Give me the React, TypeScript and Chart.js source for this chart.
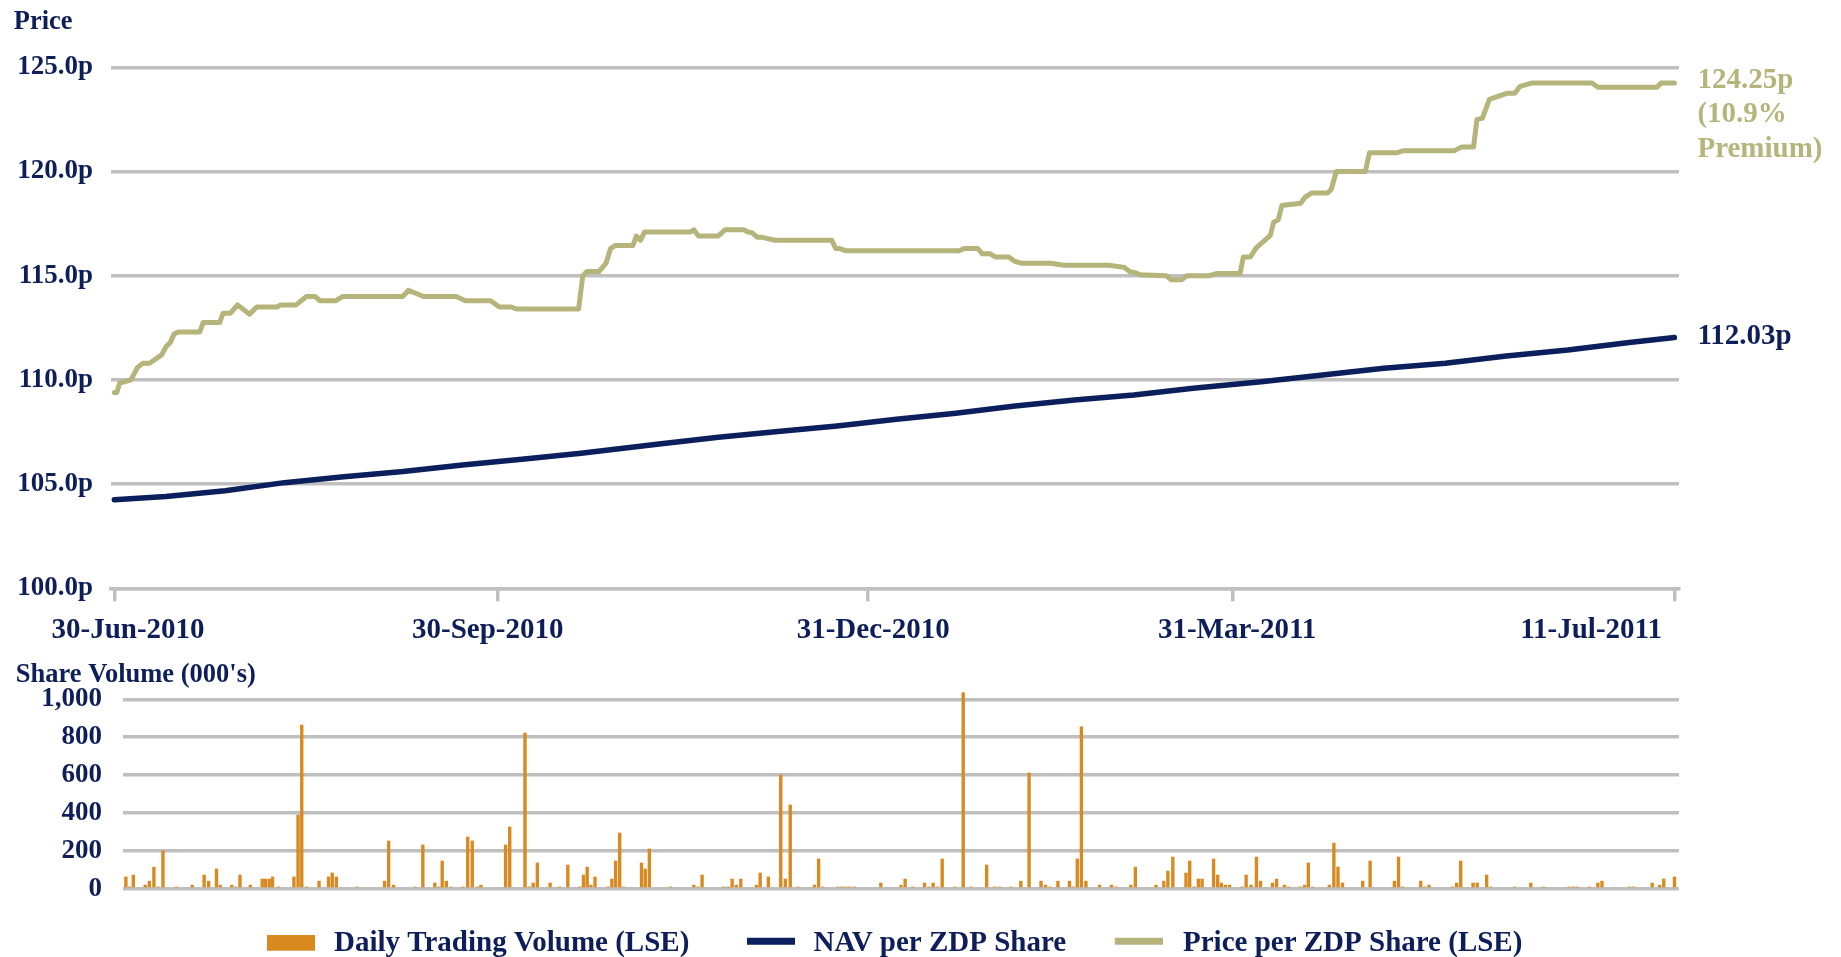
import React, { useEffect, useRef } from 'react';
import { Chart, registerables } from 'chart.js';

Chart.register(...registerables);

const FONT = '"Liberation Serif", "Times New Roman", Times, serif';
const NAVY = '#0D1E5A';
const NAV_LINE = '#0A1F5C';
const KHAKI = '#B5B47A';
const ORANGE = '#D8891F';
const GRID = '#BFBFBF';

// x units: position along the date axis (days from 30-Jun-2010)
const xTickPos = [0, 92.5, 181.5, 269.5, 376];
const xLabelPos = [3.3, 90, 182.9, 270.6, 355.9];
const xTickLabels = ['30-Jun-2010', '30-Sep-2010', '31-Dec-2010', '31-Mar-2011', '11-Jul-2011'];

const priceTicks = [100, 105, 110, 115, 120, 125];
const volumeTicks = [0, 200, 400, 600, 800, 1000];

const priceDays = [
  0, 0.6, 1.3, 4.0, 5.6, 6.9, 8.5, 11.4, 12.5, 13.5, 14.4, 15.4, 20.6, 21.4, 25.4, 26.2, 28.0, 29.7,
  32.6, 34.3, 39.2, 40.1, 43.8, 46.3, 48.4, 49.6, 53.4, 55.0, 69.5, 70.9, 74.5, 82.4, 84.6, 90.7,
  92.8, 95.7, 96.9, 111.9, 112.9, 113.9, 116.8, 118.5, 119.6, 120.7, 125.0, 125.8, 126.8, 127.8,
  138.9, 139.7, 140.8, 145.5, 147.2, 151.7, 152.7, 153.8, 154.9, 155.9, 159.2, 172.9, 173.9, 174.9,
  176.2, 203.6, 204.8, 208.1, 209.2, 211.1, 212.3, 215.6, 216.9, 218.5, 225.6, 228.9, 239.7, 243.4,
  244.7, 245.9, 247.2, 253.5, 254.7, 257.2, 258.5, 263.9, 265.6, 271.3, 272.1, 273.8, 275.2, 278.6,
  279.4, 280.5, 281.4, 285.9, 287.0, 288.6, 292.4, 293.3, 294.5, 301.5, 302.5, 309.2, 310.7, 323.0,
  324.7, 327.6, 328.4, 329.7, 331.4, 335.6, 337.5, 338.7, 341.7, 356.1, 357.6, 371.8, 372.8, 376,
];
const priceValues = [
  109.4, 109.4, 109.85, 110.0, 110.6, 110.8, 110.8, 111.2, 111.6, 111.8, 112.2, 112.3, 112.3, 112.75, 112.75, 113.2, 113.2, 113.6,
  113.15, 113.5, 113.5, 113.6, 113.6, 114.0, 114.0, 113.8, 113.8, 114.0, 114.0, 114.3, 114.0, 114.0, 113.8, 113.8,
  113.5, 113.5, 113.4, 113.4, 115.0, 115.2, 115.2, 115.6, 116.3, 116.45, 116.45, 116.9, 116.7, 117.1,
  117.1, 117.2, 116.9, 116.9, 117.2, 117.2, 117.1, 117.05, 116.85, 116.85, 116.7, 116.7, 116.3, 116.3,
  116.2, 116.2, 116.3, 116.3, 116.05, 116.05, 115.9, 115.9, 115.7, 115.6, 115.6, 115.5, 115.5, 115.4,
  115.2, 115.15, 115.05, 115.0, 114.8, 114.8, 115.0, 115.0, 115.1, 115.1, 115.9, 115.9, 116.33, 116.93,
  117.57, 117.68, 118.37, 118.48, 118.77, 118.97, 118.97, 119.14, 120.0, 120.0, 120.9, 120.9, 121.0, 121.0,
  121.18, 121.18, 122.5, 122.55, 123.46, 123.75, 123.75, 124.07, 124.25, 124.25, 124.04, 124.04, 124.25, 124.25,
];

const navDays = [
  0, 12.4, 26.7, 41, 55.3, 69.6, 83.9, 98.2, 112.5, 131.3, 145.6, 159.9, 174.2, 188.5,
  202.8, 217.1, 231.4, 245.7, 260, 276.4, 291.2, 306, 320.8, 335.5, 350.3, 365.1, 376,
];
const navValues = [
  104.25, 104.4, 104.68, 105.07, 105.35, 105.6, 105.92, 106.19, 106.48, 106.92, 107.25, 107.52, 107.79, 108.11,
  108.4, 108.75, 109.04, 109.28, 109.6, 109.91, 110.24, 110.56, 110.8, 111.15, 111.43, 111.79, 112.03,
];

const volumeDays = [
  0.0, 0.9, 1.8, 4.7, 5.7, 6.8, 7.8, 9.0, 12.2, 16.1, 19.0, 20.1, 22.0, 22.9, 25.7, 26.7, 27.7, 30.2,
  33.1, 33.9, 34.8, 35.6, 37.1, 40.8, 41.8, 42.7, 43.9, 46.9, 49.2, 50.1, 51.1, 56.1, 62.8, 63.8, 65.0,
  70.2, 72.1, 75.0, 76.0, 76.8, 77.8, 78.9, 81.8, 83.0, 84.1, 85.4, 86.2, 92.2, 93.2, 96.9, 97.9, 98.9,
  99.9, 103.0, 105.2, 107.3, 110.2, 111.1, 112.0, 112.9, 113.9, 117.0, 118.0, 118.9, 119.9, 120.8,
  125.2, 126.1, 127.1, 132.2, 137.9, 138.9, 139.9, 145.2, 146.2, 147.2, 148.2, 149.3, 153.1, 154.0,
  156.0, 159.0, 160.1, 161.3, 163.2, 167.2, 168.2, 169.2, 172.9, 173.8, 174.8, 175.8, 176.9, 183.3,
  188.2, 189.2, 191.0, 193.9, 194.9, 196.0, 197.1, 198.2, 201.3, 203.3, 205.2, 209.0, 210.9, 212.1,
  214.9, 217.3, 219.3, 222.2, 223.3, 224.4, 226.3, 229.1, 230.0, 231.0, 232.0, 233.1, 236.4, 239.3,
  240.4, 244.0, 245.1, 250.1, 252.0, 253.0, 254.2, 257.4, 258.3, 259.4, 260.4, 261.3, 264.1, 265.1,
  266.0, 267.0, 268.0, 271.0, 272.0, 273.2, 274.5, 275.5, 278.4, 279.4, 281.3, 282.3, 285.1, 286.2,
  287.1, 288.1, 292.2, 293.3, 294.3, 295.4, 300.3, 302.1, 308.0, 309.0, 310.0, 314.4, 315.4, 316.4,
  322.1, 323.1, 324.1, 327.1, 328.1, 330.4, 331.4, 337.2, 341.1, 344.2, 350.4, 351.4, 352.4, 355.4,
  357.4, 358.4, 365.1, 366.1, 370.6, 372.4, 373.4, 376.0,
];
const volumeValues = [
  62, 9, 72, 19, 40, 114, 9, 199, 9, 19, 72, 40, 104, 19, 19, 9, 72, 19,
  51, 51, 51, 62, 9, 62, 389, 864, 9, 40, 62, 83, 62, 9, 40, 252, 19,
  9, 231, 30, 9, 146, 40, 9, 9, 273, 252, 9, 19, 231, 326, 822, 9, 30,
  136, 30, 9, 125, 9, 72, 114, 19, 62, 9, 51, 146, 294, 9,
  136, 104, 210, 9, 19, 9, 72, 9, 9, 51, 19, 51, 19, 83,
  62, 600, 51, 442, 9, 19, 157, 9, 9, 9, 9, 9, 9, 30,
  19, 51, 9, 30, 9, 30, 9, 157, 9, 1035, 9, 125, 9, 9,
  9, 40, 611, 40, 19, 9, 40, 40, 9, 157, 854, 40, 19, 19,
  9, 19, 114, 19, 40, 93, 167, 83, 146, 9, 51, 51, 157, 72,
  30, 19, 19, 9, 72, 19, 167, 40, 30, 51, 19, 9, 9, 19,
  136, 9, 19, 241, 114, 30, 40, 146, 40, 167, 9, 40, 9, 19,
  9, 30, 146, 30, 30, 72, 9, 9, 30, 9, 9, 9, 9, 9,
  30, 40, 9, 9, 30, 19, 51, 62,
];

const legendLabels = ['Daily Trading Volume (LSE)', 'NAV per ZDP Share', 'Price per ZDP Share (LSE)'];

const X_MIN = -0.8;
const X_MAX = 377.1;
const CANVAS_W = 1841;
const TOP_H = 650;
const BOTTOM_H = 307;
const GRID_W = 3.5;

const font = (size: number) => ({ family: FONT, size, weight: 'bold' as const });

const priceTextPlugin = {
  id: 'priceText',
  afterDatasetsDraw(chart: any) {
    const ctx = chart.ctx;
    ctx.save();
    ctx.textAlign = 'left';
    ctx.textBaseline = 'alphabetic';
    ctx.font = `bold 26.5px ${FONT}`;
    ctx.fillStyle = NAVY;
    ctx.fillText('Price', 13.8, 29.3);

    const navMeta = chart.getDatasetMeta(0);
    const priceMeta = chart.getDatasetMeta(1);
    const nLast = navMeta.data[navMeta.data.length - 1];
    const pLast = priceMeta.data[priceMeta.data.length - 1];
    const navEnd = navValues[navValues.length - 1];
    const priceEnd = priceValues[priceValues.length - 1];
    const premium = (priceEnd / navEnd - 1) * 100;

    ctx.font = `bold 29px ${FONT}`;
    ctx.fillStyle = KHAKI;
    const lines = [`${priceEnd.toFixed(2)}p`, `(${premium.toFixed(1)}%`, 'Premium)'];
    lines.forEach((t, i) => ctx.fillText(t, pLast.x + 23, pLast.y + 4.8 + i * 34.7));

    ctx.fillStyle = NAVY;
    ctx.fillText(`${navEnd.toFixed(2)}p`, nLast.x + 23, nLast.y + 6);
    ctx.restore();
  },
};

const volumeTextPlugin = {
  id: 'volumeText',
  afterDraw(chart: any) {
    const ctx = chart.ctx;
    ctx.save();
    ctx.textAlign = 'left';
    ctx.textBaseline = 'alphabetic';
    ctx.font = `bold 26.5px ${FONT}`;
    ctx.fillStyle = NAVY;
    ctx.fillText("Share Volume (000's)", 15.8, 31.7);

    // legend
    ctx.fillStyle = ORANGE;
    ctx.fillRect(267, 285, 48, 15.7);
    ctx.lineCap = 'butt';
    ctx.lineWidth = 7;
    ctx.strokeStyle = NAV_LINE;
    ctx.beginPath();
    ctx.moveTo(747, 291.3);
    ctx.lineTo(795, 291.3);
    ctx.stroke();
    ctx.strokeStyle = KHAKI;
    ctx.beginPath();
    ctx.moveTo(1114.8, 291.3);
    ctx.lineTo(1163, 291.3);
    ctx.stroke();

    ctx.font = `bold 29px ${FONT}`;
    ctx.fillStyle = NAVY;
    ctx.fillText(legendLabels[0], 334, 300.7);
    ctx.fillText(legendLabels[1], 813.5, 300.7);
    ctx.fillText(legendLabels[2], 1183, 300.7);
    ctx.restore();
  },
};

export default function App() {
  const topRef = useRef<HTMLCanvasElement | null>(null);
  const bottomRef = useRef<HTMLCanvasElement | null>(null);

  useEffect(() => {
    if (!topRef.current || !bottomRef.current) return;

    const priceChart = new Chart(topRef.current, {
      type: 'line',
      data: {
        datasets: [
          {
            label: legendLabels[1],
            data: navDays.map((d, i) => ({ x: d, y: navValues[i] })),
            borderColor: NAV_LINE,
            borderWidth: 5.5,
            pointRadius: 0,
            tension: 0,
            borderJoinStyle: 'round',
            borderCapStyle: 'round',
          },
          {
            label: legendLabels[2],
            data: priceDays.map((d, i) => ({ x: d, y: priceValues[i] })),
            borderColor: KHAKI,
            borderWidth: 5,
            pointRadius: 0,
            tension: 0,
            borderJoinStyle: 'round',
            borderCapStyle: 'round',
          },
        ],
      },
      options: {
        responsive: false,
        animation: false,
        events: [],
        layout: { padding: { top: 67.3, right: 162, bottom: 0, left: 0 } },
        plugins: { legend: { display: false }, tooltip: { enabled: false }, title: { display: false } },
        scales: {
          x: {
            type: 'linear',
            position: 'bottom',
            weight: 0,
            min: X_MIN,
            max: X_MAX,
            afterBuildTicks: (s: any) => {
              s.ticks = xTickPos.map((v) => ({ value: v }));
            },
            afterFit: (s: any) => {
              s.height = 13;
            },
            ticks: { display: false },
            grid: { display: true, drawOnChartArea: false, drawTicks: true, tickLength: 13, color: GRID, lineWidth: GRID_W },
            border: { display: true, color: GRID, width: GRID_W },
          },
          xl: {
            type: 'linear',
            axis: 'x',
            position: 'bottom',
            weight: 1,
            min: X_MIN,
            max: X_MAX,
            afterBuildTicks: (s: any) => {
              s.ticks = xLabelPos.map((v) => ({ value: v }));
            },
            afterFit: (s: any) => {
              s.height = TOP_H - 588.3 - 13;
            },
            ticks: {
              autoSkip: false,
              maxRotation: 0,
              minRotation: 0,
              padding: 12,
              color: NAVY,
              font: font(29),
              callback: (_v: any, i: number) => xTickLabels[i],
            },
            grid: { display: false, drawTicks: false },
            border: { display: false },
          },
          y: {
            type: 'linear',
            min: 100,
            max: 125,
            afterBuildTicks: (s: any) => {
              s.ticks = priceTicks.map((v) => ({ value: v }));
            },
            afterFit: (s: any) => {
              s.width = 111;
            },
            ticks: {
              padding: 18,
              color: NAVY,
              font: font(27),
              callback: (v: any) => `${Number(v).toFixed(1)}p`,
            },
            grid: { color: GRID, lineWidth: GRID_W, drawTicks: false },
            border: { display: false },
          },
        },
      },
      plugins: [priceTextPlugin],
    } as any);

    const volumeChart = new Chart(bottomRef.current, {
      type: 'bar',
      data: {
        datasets: [
          {
            label: legendLabels[0],
            data: volumeDays.map((d, i) => ({ x: d, y: volumeValues[i] })),
            backgroundColor: ORANGE,
            borderWidth: 0,
            barThickness: 2.7,
            clip: false,
          },
        ],
      },
      options: {
        responsive: false,
        animation: false,
        events: [],
        layout: { padding: { top: 49.3, right: 162, bottom: 68.3, left: 0 } },
        plugins: { legend: { display: false }, tooltip: { enabled: false }, title: { display: false } },
        scales: {
          x: {
            type: 'linear',
            min: X_MIN,
            max: X_MAX,
            offset: false,
            display: false,
          },
          y: {
            type: 'linear',
            min: 0,
            max: 1000,
            afterBuildTicks: (s: any) => {
              s.ticks = volumeTicks.map((v) => ({ value: v }));
            },
            afterFit: (s: any) => {
              s.width = 122.6;
            },
            ticks: {
              padding: 20.6,
              color: NAVY,
              font: font(27),
              callback: (v: any) => Number(v).toLocaleString('en-US'),
            },
            grid: { color: GRID, lineWidth: GRID_W, drawTicks: false },
            border: { display: false },
          },
        },
      },
      plugins: [volumeTextPlugin],
    } as any);

    return () => {
      priceChart.destroy();
      volumeChart.destroy();
    };
  }, []);

  return (
    <div style={{ position: 'absolute', left: 0, top: 0, width: CANVAS_W, height: TOP_H + BOTTOM_H, background: '#ffffff' }}>
      <canvas
        ref={topRef}
        width={CANVAS_W}
        height={TOP_H}
        style={{ position: 'absolute', left: 0, top: 0, width: CANVAS_W, height: TOP_H, display: 'block' }}
      />
      <canvas
        ref={bottomRef}
        width={CANVAS_W}
        height={BOTTOM_H}
        style={{ position: 'absolute', left: 0, top: TOP_H, width: CANVAS_W, height: BOTTOM_H, display: 'block' }}
      />
    </div>
  );
}
